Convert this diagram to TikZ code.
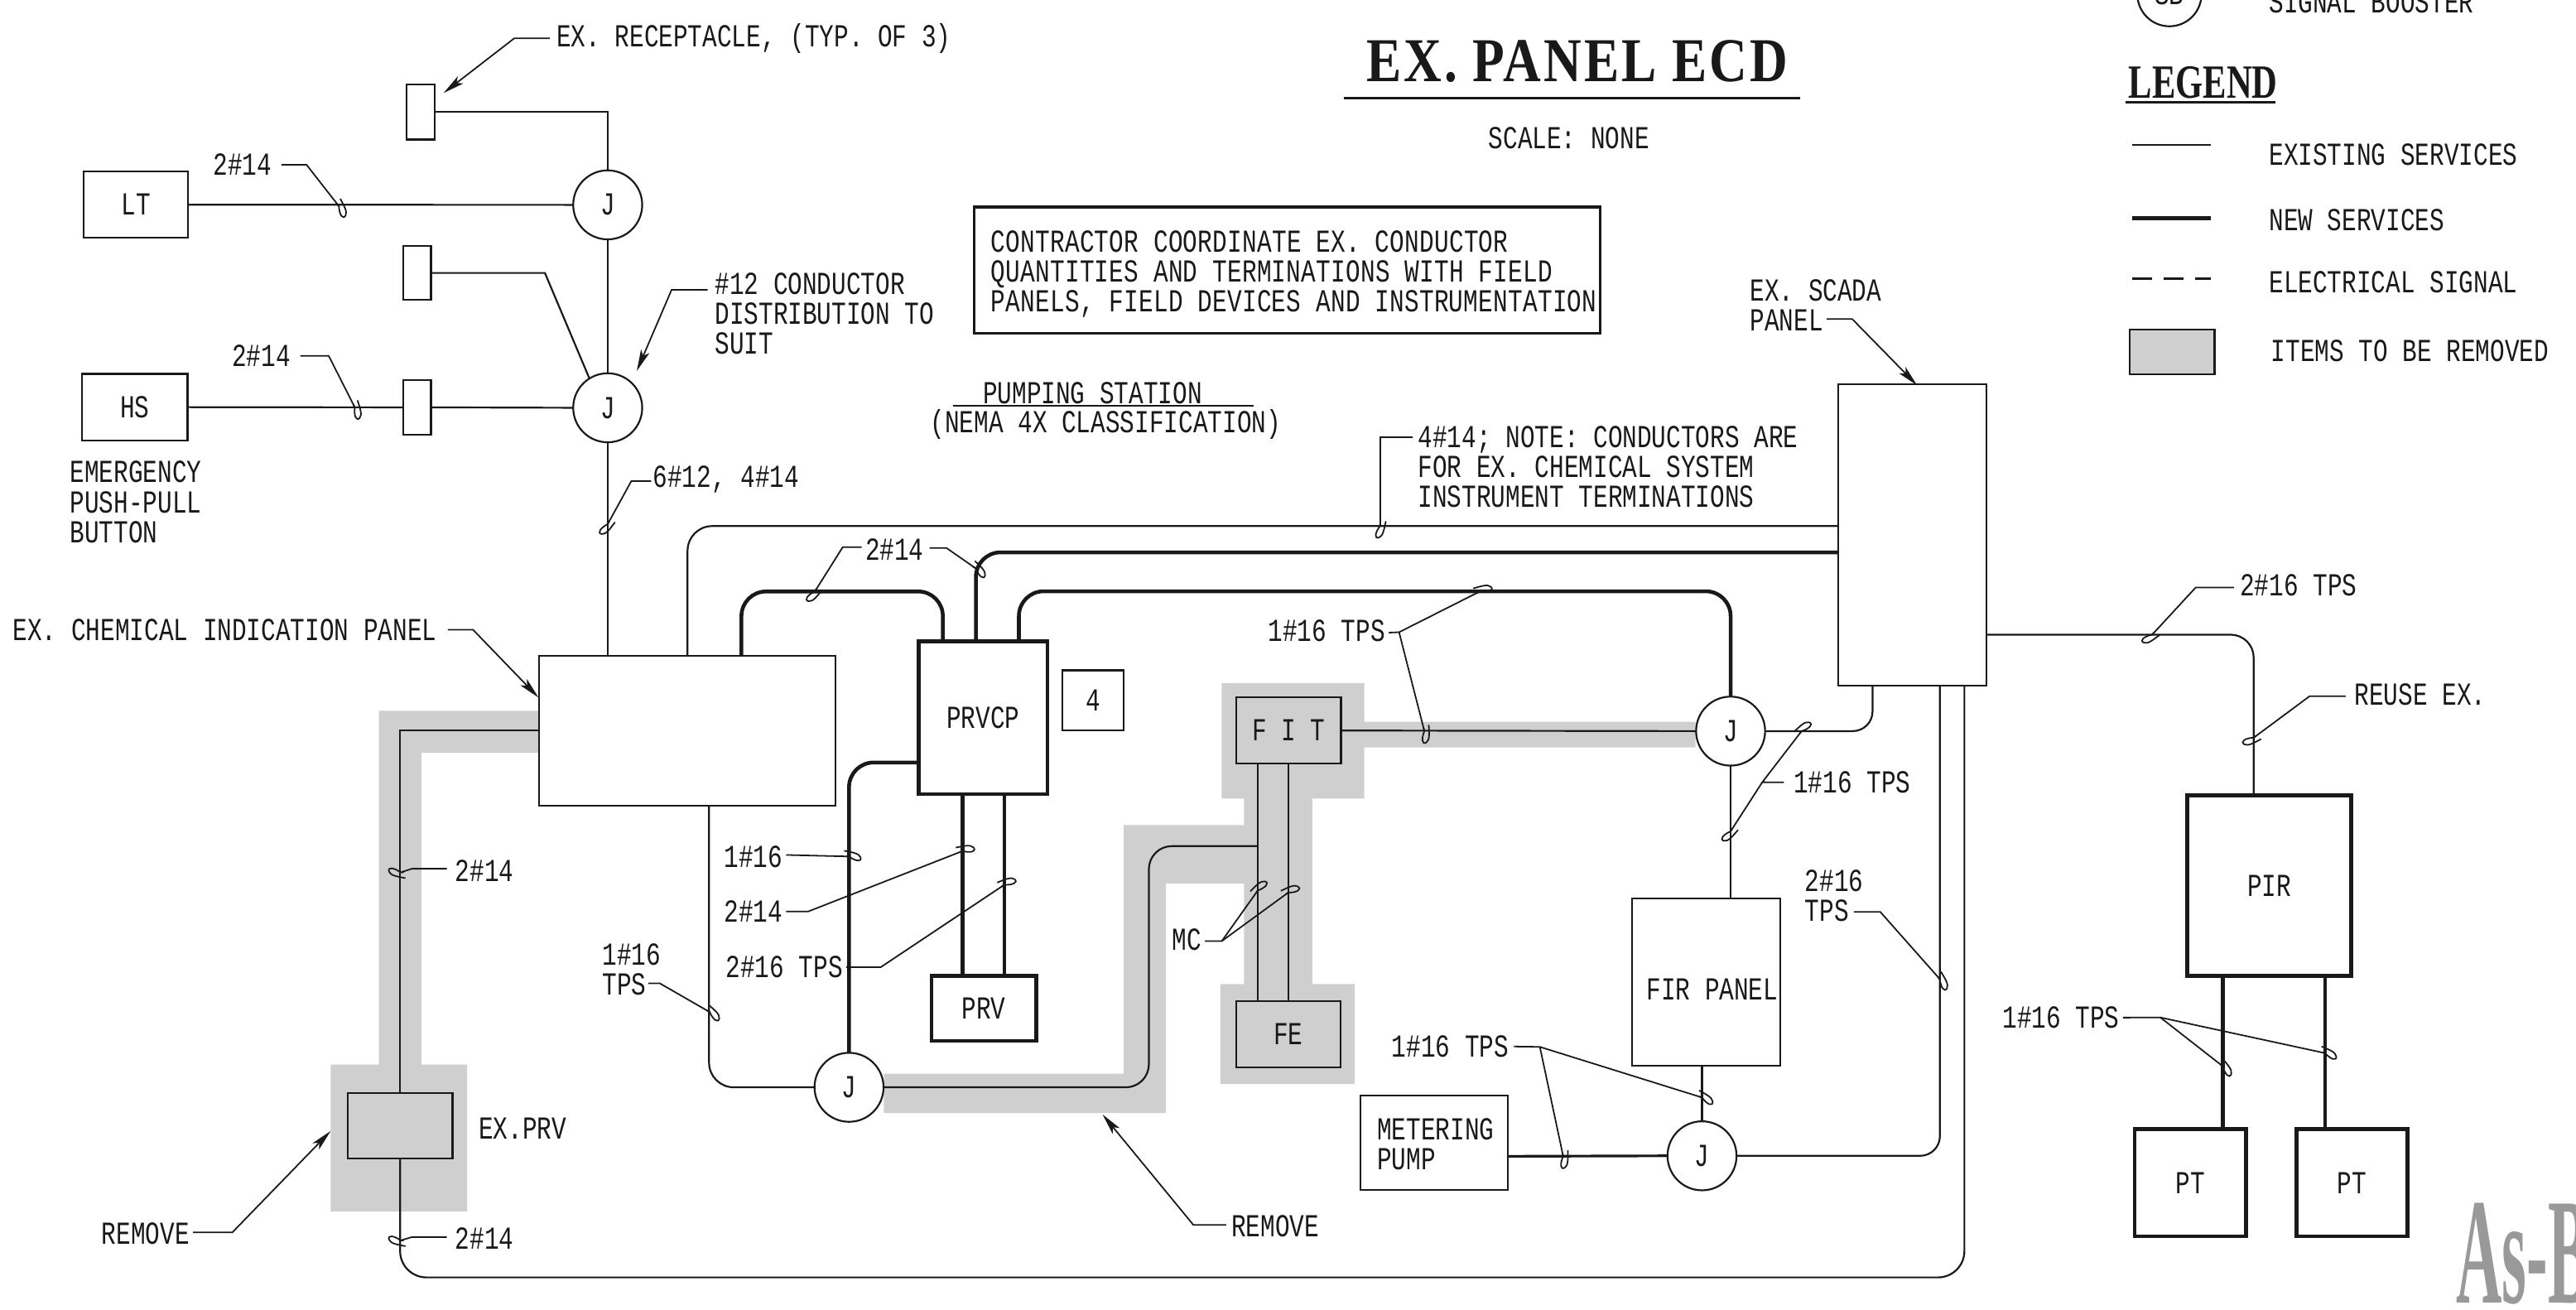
\documentclass[tikz,border=0pt]{standalone}
\usepackage{fontspec}
\usetikzlibrary{arrows.meta}
\newfontfamily\cad[FakeStretch=0.76]{Liberation Mono}
\newfontfamily\ttl[FakeStretch=0.84,LetterSpace=4]{Liberation Serif Bold}
\newfontfamily\legf[FakeStretch=0.74]{Liberation Serif Bold}
\newfontfamily\stampf[FakeStretch=0.42]{Liberation Serif Bold}
\definecolor{rem}{gray}{0.81}
\definecolor{ink}{gray}{0.10}
\tikzset{
  x=1pt,y=-1pt,
  cadf/.style={font=\cad\fontsize{19.5}{18.2}\selectfont,text=ink},
  lab/.style={cadf,anchor=base west,inner sep=0pt,yshift=-6.5pt},
  mlab/.style={cadf,anchor=west,inner sep=0pt,align=left},
  wire/.style={draw=ink,line width=1.1pt},
  heavy/.style={draw=ink,line width=2.3pt},
  lead/.style={draw=ink,line width=0.9pt},
  leadarrow/.style={lead,-{Stealth[length=13pt,width=5.5pt,inset=3pt,fill=ink]}},
  tbox/.style={cadf,draw=ink,line width=1.1pt,inner sep=0pt,outer sep=0pt},
  hbox/.style={cadf,draw=ink,line width=2.4pt,inner sep=0pt,outer sep=0pt},
  jbox/.style={cadf,circle,draw=ink,line width=1.1pt,fill=white,inner sep=0pt,outer sep=0pt,minimum size=42pt},
}
\newcommand{\hk}[2]{\draw[lead,shift={(#1)},rotate=#2] (2,0) -- (0,0) .. controls (-4,-3) and (-8,-3.5) .. (-7,-0.5) .. controls (-6,2) and (-2,2.5) .. (3,3.5);}
\begin{document}
\begin{tikzpicture}
\useasboundingbox (0,0) rectangle (1568,797.3);
\clip (0,0) rectangle (1568,797.3);
% removal shading
\fill[rem] (230.6,432.6) -- (328,432.6) -- (328,458.2) -- (256.5,458.2) -- (256.5,648) -- (284.3,648) -- (284.3,737.4) -- (201.3,737.4) -- (201.3,648) -- (230.6,648) -- cycle;
\fill[rem] (538,653.5) -- (684,653.5) -- (684,502.2) -- (757.2,502.2) -- (757.2,486) -- (743.6,486) -- (743.6,415.7) -- (830.4,415.7) -- (830.4,439.3) -- (1032,439.3) -- (1032,454.9) -- (830.4,454.9) -- (830.4,486) -- (798.8,486) -- (798.8,598.9) -- (824.6,598.9) -- (824.6,659.8) -- (742.9,659.8) -- (742.9,598.9) -- (757.2,598.9) -- (757.2,537.7) -- (709.7,537.7) -- (709.7,677.5) -- (538,677.5) -- cycle;
% equipment
\node[tbox,minimum width=17pt,minimum height=33.5pt] (rec1) at (256.1,68.15) {};
\node[tbox,minimum width=17pt,minimum height=33pt] (rec2) at (253.8,166.15) {};
\node[tbox,minimum width=17pt,minimum height=33pt] (rec3) at (253.8,247.95) {};
\node[tbox,minimum width=63.7pt,minimum height=40.4pt] (lt) at (82.75,124.6) {LT};
\node[tbox,minimum width=64.1pt,minimum height=40.4pt] (hs) at (82.15,247.8) {HS};
\node[jbox] (j1) at (369.9,124.7) {J};
\node[jbox] (j2) at (369.9,248.2) {J};
\node[jbox] (j3) at (516.8,661.8) {J};
\node[jbox] (j4) at (1053.4,445) {J};
\node[jbox] (j5) at (1036,703.5) {J};
\node[tbox,fill=white,minimum width=180.5pt,minimum height=91.5pt] (chem) at (418.2,444.75) {};
\node[tbox,minimum width=63.7pt,minimum height=39.9pt] (exprv) at (243.55,685.15) {};
\node[hbox,fill=white,minimum width=78.3pt,minimum height=92.8pt] (prvcp) at (598.45,436.9) {PRVCP};
\node[hbox,fill=white,minimum width=63.6pt,minimum height=39.7pt] (prv) at (598.8,613.65) {PRV};
\node[tbox,minimum width=37.1pt,minimum height=36.4pt] (n4) at (665.35,426.2) {4};
\node[tbox,minimum width=63.7pt,minimum height=40.3pt] (fit) at (784.35,444.65) {F I T};
\node[tbox,minimum width=63.3pt,minimum height=40.2pt] (fe) at (784.15,629.5) {FE};
\node[tbox,minimum width=90.6pt,minimum height=101.8pt] (fir) at (1038.5,597.6) {};
\node[tbox,minimum width=89.9pt,minimum height=57.2pt] (meter) at (873.05,695.6) {};
\node[tbox,fill=white,minimum width=90.3pt,minimum height=183.4pt] (scada) at (1163.85,325.7) {};
\node[hbox,minimum width=99.8pt,minimum height=110pt] (pir) at (1381.3,539) {PIR};
\node[hbox,minimum width=67.7pt,minimum height=65.2pt] (ptl) at (1333.15,719.9) {PT};
\node[hbox,minimum width=67.6pt,minimum height=65.2pt] (ptr) at (1431.6,719.9) {PT};
\node[mlab] (firt) at (1002,602.3) {FIR PANEL};
\node[mlab] (metert) at (838.1,696.5) {METERING\\PUMP};
% connector ends on box edges
\coordinate (chemA) at (451.3,399);
\coordinate (chemC) at (418.5,399);
\coordinate (chemW) at (328,444.5);
\coordinate (chemB) at (431.6,490.5);
\coordinate (prvA) at (573.9,390.5);
\coordinate (prvT2) at (594,390.5);
\coordinate (prvT3) at (620.2,390.5);
\coordinate (prvW) at (559.3,464.1);
\coordinate (prvB1) at (585.9,483.3);
\coordinate (prvB2) at (611.4,483.3);
\coordinate (scL1) at (1118.7,320.2);
\coordinate (scL2) at (1118.7,336.2);
\coordinate (scB1) at (1139.8,417.4);
\coordinate (scB2) at (1180.8,417.4);
\coordinate (scB3) at (1195.7,417.4);
\coordinate (scR) at (1209,386.3);
\coordinate (bendA) at (699.3,515);
\coordinate (bendB) at (765.6,515);
\coordinate (fitB1) at (765.6,464.8);
\coordinate (fitB2) at (784.1,464.8);
\coordinate (firB) at (1036,648.5);
\coordinate (meterE) at (918,703.8);
\coordinate (pirT) at (1371.8,484);
\coordinate (pirB1) at (1353,594);
\coordinate (pirB2) at (1415.3,594);
% conductors
\draw[wire] (rec1.east) -| (j1.north);
\draw[wire] (lt.east) -- (j1.west);
\draw[wire] (j1.south) -- (j2.north);
\draw[wire] (rec2.east) -- ++(69.4,0) -- (j2.122);
\draw[wire] (hs.east) -- (rec3.west);
\draw[wire] (rec3.east) -- (j2.west);
\draw[wire] (j2.south) -- (j2.south |- chem.north);
\draw[wire,rounded corners=15pt] (chemC) |- (scL1);
\draw[heavy,rounded corners=15pt] (chemA) -- ++(0,-39) -| (prvA);
\draw[heavy,rounded corners=15pt] (prvT2) |- (scL2);
\draw[heavy,rounded corners=15pt] (prvT3) -- ++(0,-30.6) -| (j4.north);
\draw[wire] (chemW) -| (exprv.north);
\draw[wire,rounded corners=16pt] (exprv.south) -- ++(0,72.4) -| (scB3);
\draw[wire,rounded corners=15pt] (chemB) |- (j3.west);
\draw[heavy,rounded corners=15pt] (prvW) -| (j3.north);
\draw[heavy] (prvB1) -- (prvB1 |- prv.north);
\draw[heavy] (prvB2) -- (prvB2 |- prv.north);
\draw[wire,rounded corners=14pt] (j3.east) -| (bendA) -- (bendB);
\draw[wire] (fitB1) -- (fitB1 |- fe.north);
\draw[wire] (fitB2) -- (fitB2 |- fe.north);
\draw[wire] (fit.east) -- (j4.west);
\draw[wire,rounded corners=12pt] (j4.east) -| (scB1);
\draw[wire] (j4.south) -- (j4.south |- fir.north);
\draw[wire] (firB) -- (j5.north);
\draw[wire,line width=1.6pt] (meterE) -- (j5.west);
\draw[wire,rounded corners=12pt] (j5.east) -| (scB2);
\draw[wire,rounded corners=14pt] (scR) -| (pirT);
\draw[heavy] (pirB1) -- (pirB1 |- ptl.north);
\draw[heavy] (pirB2) -- (pirB2 |- ptr.north);
% labels
\node[lab] (tRec) at (338.6,21.9) {EX. RECEPTACLE, (TYP. OF 3)};
\node[lab] (t14a) at (129.6,100.3) {2\#14};
\node[lab] (t14b) at (141,216.6) {2\#14};
\node[mlab] (t12) at (435,190.8) {\#12 CONDUCTOR\\DISTRIBUTION TO\\SUIT};
\node[lab] (t612) at (397.3,290.1) {6\#12, 4\#14};
\node[lab] (t14c) at (526.5,334.4) {2\#14};
\node[mlab] (tEmerg) at (42.4,305.6) {EMERGENCY\\PUSH-PULL\\BUTTON};
\node[lab] (tChem) at (7.7,383.2) {EX. CHEMICAL INDICATION PANEL};
\node[lab] (t14d) at (277,529.8) {2\#14};
\node[lab] (t14e) at (277,754) {2\#14};
\node[lab] (tRem1) at (61.7,751) {REMOVE};
\node[lab] (tPrv) at (291.2,686.6) {EX.PRV};
\node[lab] (t116a) at (440.5,521.3) {1\#16};
\node[lab] (t14f) at (440.5,554.8) {2\#14};
\node[lab] (t216a) at (441.6,588.6) {2\#16 TPS};
\node[mlab] (t116b) at (366.4,590) {1\#16\\TPS};
\node[lab] (t116c) at (771.8,384) {1\#16 TPS};
\node[lab] (t116d) at (1091.6,476.1) {1\#16 TPS};
\node[mlab] (t216b) at (1098.5,545) {2\#16\\TPS};
\node[lab] (tMC) at (713.2,571.7) {MC};
\node[lab] (t116e) at (847,636.9) {1\#16 TPS};
\node[lab] (tRem2) at (749.4,746) {REMOVE};
\node[mlab] (tSc) at (1065,185.7) {EX. SCADA\\PANEL};
\node[mlab] (tNote) at (863,284) {4\#14; NOTE: CONDUCTORS ARE\\FOR EX. CHEMICAL SYSTEM\\INSTRUMENT TERMINATIONS};
\node[lab] (t216c) at (1363.3,356.2) {2\#16 TPS};
\node[lab] (tReuse) at (1433,422.8) {REUSE EX.};
\node[lab] (t116f) at (1218.7,619.3) {1\#16 TPS};
% leader ends
\coordinate (a1) at (270,56.6);
\coordinate (a2) at (387.6,225.8);
\coordinate (a3) at (327.8,424.6);
\coordinate (a4) at (201.3,688.4);
\coordinate (a5) at (671.1,678.3);
\coordinate (a6) at (1167,234.6);
\coordinate (h1) at (206.3,125.5);
\coordinate (h2) at (216,248);
\coordinate (h3) at (369.9,319);
\coordinate (h4) at (496,360);
\coordinate (h5) at (594,346);
\coordinate (h6) at (243.8,531);
\coordinate (h7) at (243.8,755);
\coordinate (h8) at (516.8,521.3);
\coordinate (h9) at (585.9,518);
\coordinate (h10) at (611.4,538.5);
\coordinate (h11) at (432,616);
\coordinate (h12) at (901,359.9);
\coordinate (h13) at (867,445);
\coordinate (h14) at (1096.6,445);
\coordinate (h15) at (1053.4,506);
\coordinate (h16) at (1180.8,596);
\coordinate (h17) at (765.6,542);
\coordinate (h18) at (784.1,543.3);
\coordinate (h19) at (1036,668);
\coordinate (h20) at (951.5,703.8);
\coordinate (h21) at (840,320.2);
\coordinate (h22) at (1310,386.3);
\coordinate (h23) at (1371.8,449);
\coordinate (h24) at (1353,649);
\coordinate (h25) at (1415.3,641);
% leaders
\draw[leadarrow] (tRec.west) ++(-4,0) -- ++(-21.6,0) -- (a1);
\draw[lead] (t14a.east) ++(5.7,0) -- ++(15.3,0) -- (h1); \hk{h1}{129}
\draw[lead] (t14b.east) ++(5.8,0) -- ++(17.3,0) -- (h2); \hk{h2}{119}
\draw[leadarrow] (t12.west) ++(-4.2,-14.4) -- ++(-22,0) -- (a2);
\draw[lead] (t612.west) ++(-1,1) -- ++(-12,0) -- (h3); \hk{h3}{64}
\draw[lead] (t14c.west) ++(-2,-1.4) -- ++(-11.5,0) -- (h4); \hk{h4}{62}
\draw[lead] (t14c.east) ++(3.3,-0.8) -- ++(10.4,0) -- (h5); \hk{h5}{147}
\draw[leadarrow] (tChem.east) ++(6.6,0) -- ++(15.3,0) -- (a3);
\draw[lead] (t14d.west) ++(-5,-1) -- ++(-21.3,0) -- (h6); \hk{h6}{0}
\draw[lead] (t14e.west) ++(-5,-1) -- ++(-21.3,0) -- (h7); \hk{h7}{0}
\draw[leadarrow] (tRem1.east) ++(2,-1) -- ++(24,0) -- (a4);
\draw[lead] (t116a.east) ++(2,-1) -- (h8); \hk{h8}{180}
\draw[lead] (t14f.east) ++(2,0) -- ++(13.5,0) -- (h9); \hk{h9}{202}
\draw[lead] (t216a.east) ++(2,0) -- ++(21,0) -- (h10); \hk{h10}{213}
\draw[lead] (t116b.east) ++(-7.8,8.5) -- ++(7,0) -- (h11); \hk{h11}{150}
\coordinate (f1) at (851.6,384.8);
\draw[lead] (t116c.east) ++(2,1) -- (f1) -- (h12); \hk{h12}{207}
\draw[lead] (f1) -- (h13); \hk{h13}{104}
\coordinate (f2) at (1072.7,476.1);
\draw[lead] (t116d.west) ++(-5.8,0) -- (f2) -- (h14); \hk{h14}{234}
\draw[lead] (f2) -- (h15); \hk{h15}{60}
\draw[lead] (t216b.east) ++(-6,10) -- ++(16,0) -- (h16); \hk{h16}{132}
\coordinate (f3) at (743.7,572.8);
\draw[lead] (tMC.east) ++(2,1) -- (f3) -- (h17); \hk{h17}{236}
\draw[lead] (f3) -- (h18); \hk{h18}{216}
\coordinate (f4) at (937.3,637.2);
\draw[lead] (t116e.east) ++(3,0) -- (f4) -- (h19); \hk{h19}{162}
\draw[lead] (f4) -- (h20); \hk{h20}{102}
\draw[leadarrow] (tRem2.west) ++(-3,-0.5) -- ++(-20,0) -- (a5);
\draw[leadarrow] (tSc.east) ++(-33.5,8.5) -- ++(15.5,0) -- (a6);
\draw[lead] (tNote.west) ++(-3,-18) -- ++(-20,0) -- (h21); \hk{h21}{89}
\draw[lead] (t216c.west) ++(-3.6,1.3) -- ++(-23.2,0) -- (h22); \hk{h22}{48}
\draw[lead] (tReuse.west) ++(-5.2,0.9) -- ++(-22,0) -- (h23); \hk{h23}{39}
\coordinate (f5) at (1315,619.3);
\draw[lead] (t116f.east) ++(2,0) -- (f5) -- (h24); \hk{h24}{141}
\draw[lead] (f5) -- (h25); \hk{h25}{168}
% notes and titles
\node[font=\ttl\fontsize{38}{38}\selectfont,text=ink,inner sep=0pt,anchor=base] (title) at (960,49.5) {EX. PANEL ECD};
\coordinate (tuL) at (818,59.7);
\coordinate (tuR) at (1095.8,59.7);
\draw[draw=ink,line width=1.8pt] (tuL) -- (tuR);
\node[lab,anchor=base] (scale) at (955,84) {SCALE: NONE};
\node[draw=ink,line width=1.6pt,inner sep=0pt,outer sep=0pt,minimum width=381pt,minimum height=77pt] (contr) at (783.5,164.5) {};
\node[mlab] (contrt) at (603,167) {\addfontfeature{LetterSpace=0.6}CONTRACTOR COORDINATE EX. CONDUCTOR\\\addfontfeature{LetterSpace=0.6}QUANTITIES AND TERMINATIONS WITH FIELD\\\addfontfeature{LetterSpace=0.6}PANELS, FIELD DEVICES AND INSTRUMENTATION};
\node[lab,anchor=base] (pump) at (665,239) {PUMPING STATION};
\coordinate (puL) at (580,247);
\coordinate (puR) at (763,247);
\draw[wire] (puL) -- (puR);
\node[lab,anchor=base] (nema) at (673,257) {(NEMA 4X CLASSIFICATION)};
% legend
\node[jbox,minimum size=39pt] (sb) at (1320.5,-3.5) {SB};
\node[lab] (tSB) at (1381,1.2) {SIGNAL BOOSTER};
\node[font=\legf\fontsize{29}{29}\selectfont,text=ink,inner sep=0pt,anchor=base west] (leg) at (1295.5,59.5) {LEGEND};
\coordinate (luL) at (1293.7,62.4);
\coordinate (luR) at (1385,62.4);
\draw[draw=ink,line width=1.4pt] (luL) -- (luR);
\coordinate (l1a) at (1298,88); \coordinate (l1b) at (1345.8,88);
\coordinate (l2a) at (1298,132.7); \coordinate (l2b) at (1345.8,132.7);
\coordinate (l3a) at (1298,169.8); \coordinate (l3b) at (1345.8,169.8);
\draw[wire] (l1a) -- (l1b);
\draw[heavy] (l2a) -- (l2b);
\draw[draw=ink,line width=1.6pt,dash pattern=on 12pt off 7pt] (l3a) -- (l3b);
\node[draw=ink,line width=1.1pt,fill=rem,inner sep=0pt,outer sep=0pt,minimum width=51.5pt,minimum height=27.4pt] (lgray) at (1322.25,214.3) {};
\node[lab] (tL1) at (1381,93.9) {EXISTING SERVICES};
\node[lab] (tL2) at (1381,133.7) {NEW SERVICES};
\node[lab] (tL3) at (1381,171.8) {ELECTRICAL SIGNAL};
\node[lab] (tL4) at (1382.3,213.5) {ITEMS TO BE REMOVED};
% stamp
\node[font=\stampf\fontsize{92}{92}\selectfont,text=black!40,inner sep=0pt,anchor=base west] (stamp) at (1495,793) {As-B};
\end{tikzpicture}
\end{document}
